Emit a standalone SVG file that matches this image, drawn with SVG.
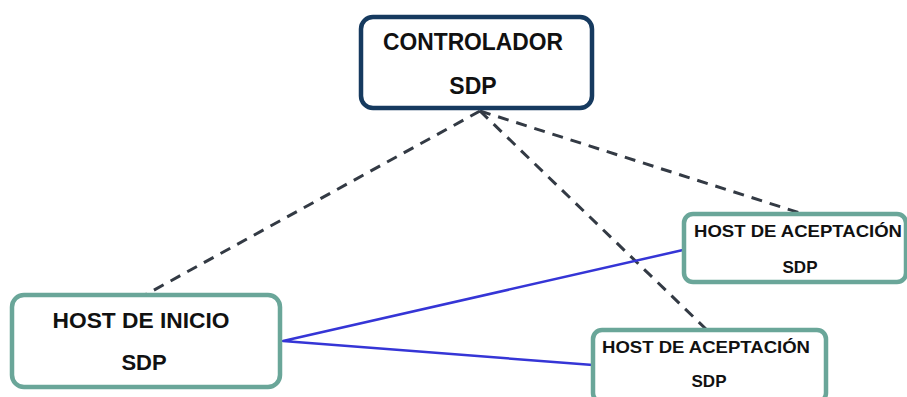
<svg xmlns="http://www.w3.org/2000/svg" width="907" height="397" viewBox="0 0 907 397">
<style>
.bg{fill:#ffffff}
.ctrl{fill:#ffffff;stroke:#163a5f;stroke-width:4.5}
.host{fill:#ffffff;stroke:#6aa699;stroke-width:4.5}
.dash{fill:none;stroke:#333a44;stroke-width:3;stroke-dasharray:11 8}
.blue{fill:none;stroke:#3535d6;stroke-width:2.5;stroke-linejoin:round}
text{font-family:"Liberation Sans",Arial,sans-serif;font-weight:bold;fill:#111111;text-anchor:middle}
.big{font-size:23px}
.mid{font-size:22px}
.small{font-size:17px}
</style>
<rect class="bg" x="0" y="0" width="907" height="397"/>
<g id="connectors">
<line class="dash" x1="480" y1="111" x2="145" y2="295"/>
<line class="dash" x1="480" y1="111" x2="707" y2="330"/>
<line class="dash" x1="480" y1="111" x2="800" y2="213"/>
<polyline class="blue" points="683,250 283,341 593,365"/>
</g>
<g id="controlador">
<rect class="ctrl" x="361" y="17" width="231" height="91" rx="12"/>
<text class="big" x="473" y="50" textLength="180" lengthAdjust="spacingAndGlyphs">CONTROLADOR</text>
<text class="big" x="473" y="94">SDP</text>
</g>
<g id="host-inicio">
<rect class="host" x="12" y="295" width="268" height="92" rx="12"/>
<text class="mid" x="141" y="328" textLength="177" lengthAdjust="spacingAndGlyphs">HOST DE INICIO</text>
<text class="mid" x="144" y="370">SDP</text>
</g>
<g id="host-aceptacion-1">
<rect class="host" x="684" y="214" width="222" height="68" rx="9"/>
<text class="small" x="798" y="237" textLength="208" lengthAdjust="spacingAndGlyphs">HOST DE ACEPTACIÓN</text>
<text class="small" x="800" y="273">SDP</text>
</g>
<g id="host-aceptacion-2">
<rect class="host" x="593" y="330" width="233" height="72" rx="9"/>
<text class="small" x="706" y="353" textLength="208" lengthAdjust="spacingAndGlyphs">HOST DE ACEPTACIÓN</text>
<text class="small" x="709" y="387">SDP</text>
</g>
</svg>
